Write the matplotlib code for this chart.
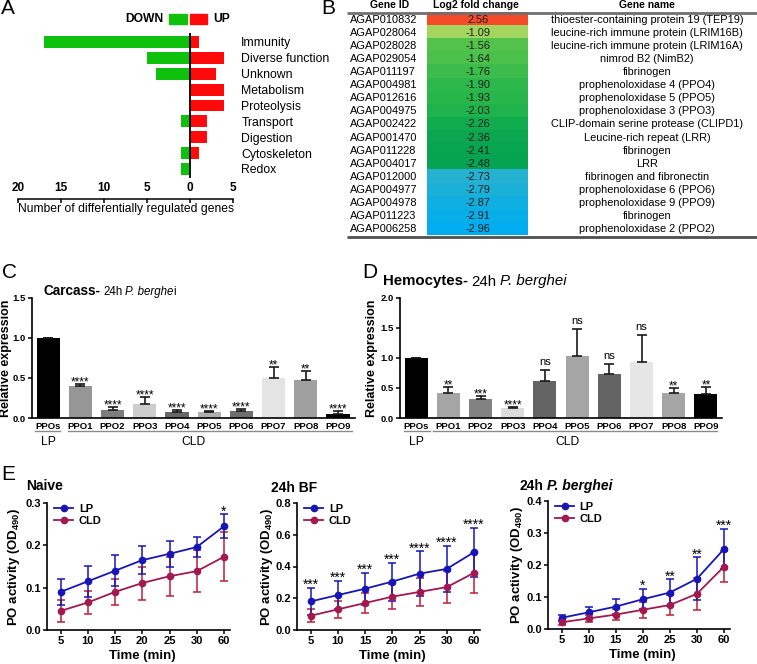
import numpy as np
import matplotlib
matplotlib.use('Agg')
import matplotlib.pyplot as plt
from matplotlib.colors import LinearSegmentedColormap, Normalize
from matplotlib.patches import Rectangle
from matplotlib.text import Annotation
import matplotlib.transforms as mtransforms
from matplotlib.ticker import FuncFormatter

plt.rcParams['font.family'] = ['Liberation Sans', 'DejaVu Sans']
plt.rcParams['mathtext.fontset'] = 'custom'
plt.rcParams['mathtext.rm'] = 'Liberation Sans'
plt.rcParams['mathtext.bf'] = 'Liberation Sans:bold'
plt.rcParams['mathtext.it'] = 'Liberation Sans:italic'

# ---------------- data ----------------
a_categories = ['Immunity', 'Diverse function', 'Unknown', 'Metabolism', 'Proteolysis',
                'Transport', 'Digestion', 'Cytoskeleton', 'Redox']
a_down = [17, 5, 4, 0, 0, 1, 0, 1, 1]
a_up = [1, 4, 3, 4, 4, 2, 2, 1, 0]

b_gene_ids = ['AGAP010832', 'AGAP028064', 'AGAP028028', 'AGAP029054', 'AGAP011197',
              'AGAP004981', 'AGAP012616', 'AGAP004975', 'AGAP002422', 'AGAP001470',
              'AGAP011228', 'AGAP004017', 'AGAP012000', 'AGAP004977', 'AGAP004978',
              'AGAP011223', 'AGAP006258']
b_log2fc = [2.56, -1.09, -1.56, -1.64, -1.76, -1.90, -1.93, -2.03, -2.26, -2.36,
            -2.41, -2.48, -2.73, -2.79, -2.87, -2.91, -2.96]
b_gene_names = ['thioester-containing protein 19 (TEP19)',
                'leucine-rich immune protein (LRIM16B)',
                'leucine-rich immune protein (LRIM16A)',
                'nimrod B2 (NimB2)', 'fibrinogen',
                'prophenoloxidase 4 (PPO4)', 'prophenoloxidase 5 (PPO5)',
                'prophenoloxidase 3 (PPO3)', 'CLIP-domain serine protease (CLIPD1)',
                'Leucine-rich repeat (LRR)', 'fibrinogen', 'LRR',
                'fibrinogen and fibronectin', 'prophenoloxidase 6 (PPO6)',
                'prophenoloxidase 9 (PPO9)', 'fibrinogen', 'prophenoloxidase 2 (PPO2)']

ppo_labels = ['PPOs', 'PPO1', 'PPO2', 'PPO3', 'PPO4', 'PPO5', 'PPO6', 'PPO7', 'PPO8', 'PPO9']
c_means = [1.0, 0.40, 0.10, 0.18, 0.07, 0.075, 0.085, 0.505, 0.48, 0.053]
c_errs = [0.0, 0.025, 0.035, 0.085, 0.025, 0.015, 0.03, 0.135, 0.11, 0.03]
c_sig = ['', '****', '****', '****', '****', '****', '****', '**', '**', '****']

d_means = [1.0, 0.41, 0.31, 0.165, 0.61, 1.03, 0.73, 0.94, 0.41, 0.40]
d_errs = [0.0, 0.11, 0.05, 0.012, 0.19, 0.46, 0.17, 0.44, 0.09, 0.11]
d_sig = ['', '**', '***', '****', 'ns', 'ns', 'ns', 'ns', '**', '**']

e_times = ['5', '10', '15', '20', '25', '30', '60']
naive_lp = [0.090, 0.115, 0.140, 0.165, 0.180, 0.196, 0.245]
naive_lp_sd = [0.031, 0.036, 0.036, 0.033, 0.030, 0.024, 0.028]
naive_cld = [0.045, 0.065, 0.090, 0.111, 0.127, 0.139, 0.173]
naive_cld_sd = [0.025, 0.027, 0.031, 0.039, 0.046, 0.050, 0.058]
naive_sig = ['', '', '', '', '', '', '*']

bf_lp = [0.18, 0.22, 0.26, 0.305, 0.355, 0.385, 0.49]
bf_lp_sd = [0.085, 0.09, 0.10, 0.12, 0.14, 0.145, 0.155]
bf_cld = [0.09, 0.13, 0.17, 0.21, 0.24, 0.27, 0.36]
bf_cld_sd = [0.04, 0.055, 0.065, 0.08, 0.09, 0.10, 0.125]
bf_sig = ['***', '***', '***', '***', '****', '****', '****']

pb_lp = [0.035, 0.052, 0.070, 0.093, 0.114, 0.157, 0.250]
pb_lp_sd = [0.010, 0.018, 0.023, 0.032, 0.041, 0.067, 0.063]
pb_cld = [0.021, 0.033, 0.045, 0.060, 0.075, 0.110, 0.195]
pb_cld_sd = [0.008, 0.012, 0.017, 0.025, 0.032, 0.050, 0.048]
pb_sig = ['', '', '', '*', '**', '**', '***']

# ---------------- styles ----------------
GREEN = '#0DC10D'
RED = '#FF0A0A'
c_colors = ['#000000', '#969696', '#7d7d7d', '#cdcdcd', '#696969', '#afafaf',
            '#6e6e6e', '#e4e4e4', '#a0a0a0', '#000000']
d_colors = ['#000000', '#a5a5a5', '#828282', '#dcdcdc', '#646464', '#a5a5a5',
            '#646464', '#e6e6e6', '#a5a5a5', '#000000']
LP_COLOR = '#1616B8'
CLD_COLOR = '#A3184E'
CLD_ERR = '#C01E34'

W, H = 757, 664
fig = plt.figure(figsize=(W / 100, H / 100), dpi=100)


def px_axes(l, t, r, b):
    return fig.add_axes([l / W, 1 - b / H, (r - l) / W, (b - t) / H])


def ftext(x, y, s, **kw):
    return fig.text(x / W, 1 - y / H, s, **kw)


def chain(x, y, pieces):
    prev = None
    for s, weight, style, gap, size in pieces:
        if prev is None:
            prev = fig.text(x / W, 1 - y / H, s, fontsize=size, fontweight=weight,
                            fontstyle=style, va='baseline', ha='left')
        else:
            a = Annotation(s, xy=(1, 0), xycoords=prev, xytext=(gap, 0),
                           textcoords='offset points', fontsize=size, fontweight=weight,
                           fontstyle=style, va='bottom', ha='left')
            fig.add_artist(a)
            prev = a


def chain_same(x, y, pieces, size):
    chain(x, y, [(s, w, st, g, size) for s, w, st, g in pieces])


# panel letters
for (lx, ly, letter) in [(1, 8, 'A'), (321, 8, 'B'), (2, 273, 'C'), (362, 273, 'D'), (1, 474, 'E')]:
    ftext(lx, ly, letter, fontsize=15, va='center', ha='left')

# ---------------- Panel A ----------------
axA = px_axes(18, 30, 233, 199)
ya = np.arange(len(a_categories))
axA.barh(ya, -np.array(a_down), height=0.75, color=GREEN, linewidth=0)
axA.barh(ya, a_up, height=0.75, color=RED, linewidth=0)
axA.vlines(0, -0.57, len(a_categories) - 0.45, color='k', lw=1.3)
axA.set_xlim(-20, 5)
sp = 15.875
axA.set_ylim(len(a_categories) - 1 + 30 / sp, -12 / sp)
for s in ['left', 'top', 'right']:
    axA.spines[s].set_visible(False)
axA.spines['bottom'].set_linewidth(1.1)
axA.set_xticks([-20, -15, -10, -5, 0, 5])
axA.xaxis.set_major_formatter(FuncFormatter(lambda v, p: f'{abs(int(v))}'))
axA.tick_params(axis='x', direction='out', length=3, width=1.1, pad=-15, labelsize=8.5)
for lbl in axA.get_xticklabels():
    lbl.set_fontweight('bold')
axA.yaxis.tick_right()
axA.set_yticks(ya)
axA.set_yticklabels(a_categories, fontsize=8.8)
axA.tick_params(axis='y', length=0, pad=6)
ftext(126, 209, 'Number of differentially regulated genes', fontsize=8.7, ha='center', va='center')
ftext(163, 19, 'DOWN', fontsize=8.7, fontweight='bold', ha='right', va='center')
fig.add_artist(Rectangle((169 / W, 1 - 24 / H), 18 / W, 10 / H, color=GREEN,
                         transform=fig.transFigure))
fig.add_artist(Rectangle((190 / W, 1 - 24 / H), 17 / W, 10 / H, color=RED,
                         transform=fig.transFigure))
ftext(213, 19, 'UP', fontsize=8.7, fontweight='bold', ha='left', va='center')

# ---------------- Panel B ----------------
axB = px_axes(345, 0, 757, 240)
axB.axis('off')
row0, rowh = 20.0, 13.06
n = len(b_gene_ids)
nodes = [(-2.96, (0, 174, 240)), (-2.73, (40, 178, 205)), (-2.6, (5, 163, 82)),
         (-2.48, (5, 163, 82)), (-2.03, (30, 180, 76)), (-1.56, (85, 195, 75)),
         (-1.09, (165, 215, 95)), (2.56, (245, 75, 40))]
vmin, vmax = -2.96, 2.56
cmap = LinearSegmentedColormap.from_list(
    'fc', [((v - vmin) / (vmax - vmin), tuple(c / 255 for c in col)) for v, col in nodes])
top = row0 - rowh / 2
bot = row0 + rowh * (n - 1) + rowh / 2
axB.imshow(np.array(b_log2fc).reshape(-1, 1), cmap=cmap, norm=Normalize(vmin, vmax),
           extent=[427, 528, bot, top], aspect='auto', interpolation='nearest', origin='upper')
axB.set_xlim(345, 757)
axB.set_ylim(240, 0)
axB.plot([347, 757], [12.7, 12.7], color='#707070', lw=2, solid_capstyle='butt')
axB.plot([347, 757], [237, 237], color='#505050', lw=2, solid_capstyle='butt')
axB.text(390, 5.5, 'Gene ID', fontsize=7.5, fontweight='bold', ha='center', va='center')
axB.text(476, 5.5, 'Log2 fold change', fontsize=7.5, fontweight='bold', ha='center', va='center')
axB.text(647, 5.5, 'Gene name', fontsize=7.5, fontweight='bold', ha='center', va='center')
for i in range(n):
    yy = row0 + rowh * i
    axB.text(350, yy, b_gene_ids[i], fontsize=7.9, ha='left', va='center')
    axB.text(478, yy, f'{b_log2fc[i]:.2f}', fontsize=7.9, ha='center', va='center', color='#1e1e1e')
    axB.text(647, yy, b_gene_names[i], fontsize=7.9, ha='center', va='center')


# ---------------- Panels C & D ----------------
def bar_panel(ax, means, errs, sig, colors, ymax, yticks, xmax, lp_rng, cld_rng, cld_x, ylab_x):
    x = np.arange(len(ppo_labels))
    ax.bar(x, means, width=0.72, color=colors, linewidth=0, zorder=2)
    ax.errorbar(x, means, yerr=[np.zeros(len(errs)), errs], fmt='none', ecolor='#1a1a1a',
                elinewidth=1.2, capsize=3.5, capthick=1.2, zorder=3)
    ax.set_xlim(-0.5, xmax)
    ax.set_ylim(0, ymax)
    ax.set_yticks(yticks)
    ax.set_yticklabels([f'{t:.1f}' for t in yticks], fontsize=6.8, fontweight='bold')
    ax.set_xticks(x)
    ax.set_xticklabels(ppo_labels, fontsize=6.8, fontweight='bold')
    ax.tick_params(axis='x', length=0, pad=3)
    ax.tick_params(axis='y', length=3, width=1.1, pad=1.5)
    for s in ['top', 'right']:
        ax.spines[s].set_visible(False)
    for s in ['left', 'bottom']:
        ax.spines[s].set_linewidth(1.2)
    ax.set_ylabel('Relative expression', fontsize=9, fontweight='bold')
    ax.yaxis.set_label_coords(ylab_x, 0.5)
    for i, s in enumerate(sig):
        if s:
            off = 2 if s == 'ns' else -3
            fs = 8 if s == 'ns' else 8.5
            ax.annotate(s, (i, means[i] + errs[i]), xytext=(0, off), textcoords='offset points',
                        ha='center', va='bottom', fontsize=fs)
    tr = mtransforms.blended_transform_factory(ax.transData, ax.transAxes)
    ax.plot(lp_rng, [-0.108, -0.108], transform=tr, color='#8a8a8a', lw=1, clip_on=False)
    ax.plot(cld_rng, [-0.108, -0.108], transform=tr, color='#8a8a8a', lw=1, clip_on=False)
    ax.text(0, -0.2, 'LP', transform=tr, ha='center', va='center', fontsize=8.7)
    ax.text(cld_x, -0.2, 'CLD', transform=tr, ha='center', va='center', fontsize=8.7)


axC = px_axes(32, 298, 355, 418)
bar_panel(axC, c_means, c_errs, c_sig, c_colors, 1.5, [0, 0.5, 1.0, 1.5], 9.53,
          [-0.4, 0.37], [0.62, 9.44], 4.5, (12.5 - 32) / 323)
chain(43, 295, [('Carcass-', 'bold', 'normal', 0, 9.8), ('24h', 'normal', 'normal', 2.2, 8.3),
                ('P. berghe', 'normal', 'italic', 2.2, 8.3), ('i', 'normal', 'normal', -0.6, 8.3)])

axD = px_axes(400, 298, 722, 418)
bar_panel(axD, d_means, d_errs, d_sig, d_colors, 2.0, [0, 0.5, 1.0, 1.5, 2.0], 9.5,
          [-0.37, 0.43], [0.53, 9.35], 4.7, (378 - 400) / 322)
chain_same(383, 285.5, [('Hemocytes-', 'bold', 'normal', 0), ('24h', 'normal', 'normal', 2.5),
                        ('P. berghei', 'normal', 'italic', 2.5)], 10.8)


# ---------------- Panel E ----------------
def line_panel(ax, lp, lp_sd, cld, cld_sd, sig, ymax, yticks, ylab_x):
    x = np.arange(len(e_times))
    ax.errorbar(x, cld, yerr=cld_sd, fmt='none', ecolor=CLD_ERR, elinewidth=1.1,
                capsize=3, capthick=1.1, zorder=2)
    ax.errorbar(x, lp, yerr=lp_sd, fmt='none', ecolor=LP_COLOR, elinewidth=1.1,
                capsize=3, capthick=1.1, zorder=3)
    ax.plot(x, lp, '-o', color=LP_COLOR, lw=1.3, ms=4.5, label='LP', zorder=4)
    ax.plot(x, cld, '-o', color=CLD_COLOR, lw=1.3, ms=4.5, label='CLD', zorder=4)
    ax.set_xlim(-0.5, 6.22)
    ax.set_ylim(0, ymax)
    ax.set_yticks(yticks)
    ax.set_yticklabels([f'{t:.1f}' for t in yticks], fontsize=8, fontweight='bold')
    ax.set_xticks(x)
    ax.set_xticklabels(e_times, fontsize=8, fontweight='bold')
    ax.tick_params(axis='both', length=3, width=1.1, pad=1.5)
    for s in ['top', 'right']:
        ax.spines[s].set_visible(False)
    for s in ['left', 'bottom']:
        ax.spines[s].set_linewidth(1.2)
    ax.set_ylabel(r'PO activity (OD$_{\mathbf{490}}$)', fontsize=9.5, fontweight='bold')
    ax.yaxis.set_label_coords(ylab_x, 0.5)
    ax.set_xlabel('Time (min)', fontsize=9.5, fontweight='bold')
    ax.xaxis.set_label_coords(0.52, -0.155)
    for i, s in enumerate(sig):
        if s:
            ax.annotate(s, (i, lp[i] + lp_sd[i]), xytext=(0, -3), textcoords='offset points',
                        ha='center', va='bottom', fontsize=10)
    ax.legend(loc='upper left', bbox_to_anchor=(0.04, 0.99), frameon=False,
              handlelength=1.7, handletextpad=0.5, labelspacing=0.15,
              borderpad=0, borderaxespad=0,
              prop={'weight': 'bold', 'size': 8})


axE1 = px_axes(47, 503, 230, 630)
line_panel(axE1, naive_lp, naive_lp_sd, naive_cld, naive_cld_sd, naive_sig, 0.3,
           [0, 0.1, 0.2, 0.3], (22 - 47) / 183)
chain_same(26, 490, [('Naive', 'bold', 'normal', 0)], 10)

axE2 = px_axes(297, 503, 480, 630)
line_panel(axE2, bf_lp, bf_lp_sd, bf_cld, bf_cld_sd, bf_sig, 0.8,
           [0, 0.2, 0.4, 0.6, 0.8], (275 - 297) / 183)
chain_same(271, 492, [('24h BF', 'bold', 'normal', 0)], 10)

axE3 = px_axes(548, 501, 730, 629)
line_panel(axE3, pb_lp, pb_lp_sd, pb_cld, pb_cld_sd, pb_sig, 0.4,
           [0, 0.1, 0.2, 0.3, 0.4], (525 - 548) / 182)
chain_same(519, 490, [('24h', 'bold', 'normal', 0), ('P. berghei', 'bold', 'italic', 3)], 10)

fig.savefig('out.png', dpi=100)
